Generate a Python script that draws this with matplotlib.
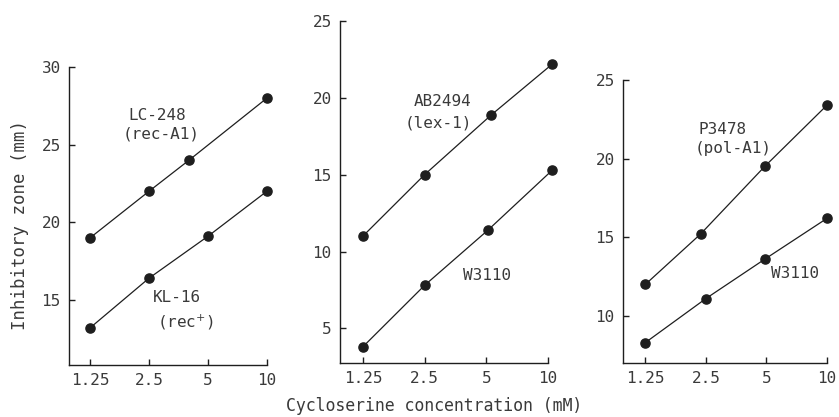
import matplotlib
matplotlib.use("Agg")
import matplotlib.pyplot as plt
import numpy as np

plt.rcParams['font.family'] = ['DejaVu Sans Mono']

conc = [1.25, 2.5, 5, 10]
conc_labels = ["1.25", "2.5", "5", "10"]

# Panel 1
p1_x_upper = [1.25, 2.5, 4.0, 10]
p1_upper = [19.0, 22.0, 24.0, 28.0]
p1_x_lower = [1.25, 2.5, 5, 10]
p1_lower = [13.2, 16.4, 19.1, 22.0]
# Panel 2
p2_x_upper = [1.25, 2.5, 5.3, 10.5]
p2_upper = [11.0, 15.0, 18.9, 22.2]
p2_x_lower = [1.25, 2.5, 5.1, 10.5]
p2_lower = [3.8, 7.8, 11.4, 15.3]
# Panel 3
p3_x_upper = [1.25, 2.35, 4.9, 10]
p3_upper = [12.0, 15.2, 19.5, 23.4]
p3_x_lower = [1.25, 2.5, 4.9, 10]
p3_lower = [8.3, 11.1, 13.6, 16.2]

W, H = 839, 417
fig = plt.figure(figsize=(W / 100, H / 100), dpi=100)

def ax_px(left, top, right, bottom):
    return fig.add_axes([left / W, 1 - bottom / H, (right - left) / W, (bottom - top) / H])

ink = '#1e1e1e'
txt = '#3a3a3a'

def setup(ax, xs_u, ys_u, xs_l, ys_l, ylim, yticks, xleft_units):
    ax.set_xscale('log', base=2)
    for xs, ys in ((xs_u, ys_u), (xs_l, ys_l)):
        ax.plot(xs, ys, '-', color=ink, lw=0.9, marker='o', ms=6.6,
                mfc=ink, mec=ink, clip_on=False, zorder=3)
    ax.set_xlim(1.25 * 2 ** (-xleft_units), 10)
    ax.set_ylim(*ylim)
    ax.set_xticks(conc)
    ax.set_xticklabels(conc_labels)
    ax.minorticks_off()
    ax.set_yticks(yticks)
    ax.set_yticklabels([str(t) for t in yticks])
    for s in ('top', 'right'):
        ax.spines[s].set_visible(False)
    for s in ('left', 'bottom'):
        ax.spines[s].set_color(ink)
        ax.spines[s].set_linewidth(1.0)
    ax.tick_params(direction='in', length=4, width=1.0, color=ink,
                   labelsize=11.5, labelcolor=txt, pad=6)
    ax.patch.set_alpha(0)

ax1 = ax_px(69, 67, 267, 365)
setup(ax1, p1_x_upper, p1_upper, p1_x_lower, p1_lower, (10.8, 30), [15, 20, 25, 30], 0.36)
ax2 = ax_px(340, 21, 548, 363)
setup(ax2, p2_x_upper, p2_upper, p2_x_lower, p2_lower, (2.75, 25), [5, 10, 15, 20, 25], 0.37)
ax3 = ax_px(623, 80, 827, 363)
setup(ax3, p3_x_upper, p3_upper, p3_x_lower, p3_lower, (7.0, 25), [10, 15, 20, 25], 0.37)

def ftext(x, y, s, size=11.5, **kw):
    fig.text(x / W, 1 - y / H, s, ha='center', va='center', fontsize=size,
             color=txt, **kw)

ftext(157, 115, "LC-248")
ftext(161, 134, "(rec-A1)")
ftext(177, 297, "KL-16")
ftext(185, 322, "(rec$^{+}$)")
ftext(443, 102, "AB2494")
ftext(438, 123, "(lex-1)")
ftext(487, 275, "W3110")
ftext(723, 130, "P3478")
ftext(733, 149, "(pol-A1)")
ftext(795, 273, "W3110")

ftext(20, 225, "Inhibitory zone (mm)", size=12.5, rotation=90)
ftext(434, 406, "Cycloserine concentration (mM)", size=11.9)

fig.savefig("out.png", dpi=100)
